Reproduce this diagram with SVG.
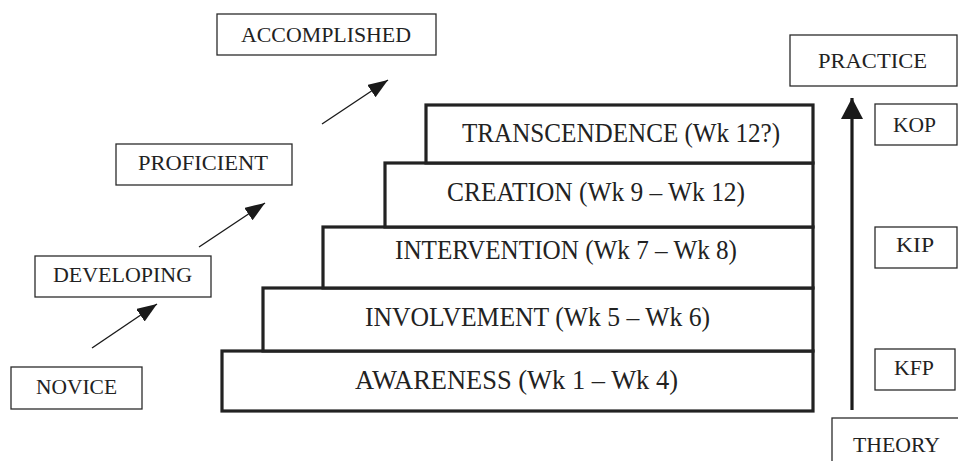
<svg xmlns="http://www.w3.org/2000/svg" width="958" height="461" viewBox="0 0 958 461">
<style>
.bg{fill:#ffffff}
.box{fill:#ffffff;stroke:#2b2b2b;stroke-width:1.3}
.step{fill:#ffffff;stroke:#222222;stroke-width:3.2}
.lbl{font-family:"Liberation Serif","Times New Roman",serif;font-size:21px;fill:#222222}
.big{font-family:"Liberation Serif","Times New Roman",serif;font-size:27.5px;fill:#222222}
.thin{stroke:#1a1a1a;stroke-width:1.4;fill:none}
.thick{stroke:#1a1a1a;stroke-width:3.2;fill:none}
</style>
<defs>
<marker id="ah" markerUnits="userSpaceOnUse" markerWidth="22" markerHeight="16" refX="20" refY="7.5" orient="auto">
<path d="M0,0 L20,7.5 L0,15 z" fill="#1a1a1a"/>
</marker>
<marker id="ahv" markerUnits="userSpaceOnUse" markerWidth="24" markerHeight="24" refX="21" refY="11" orient="auto">
<path d="M0,0 L21,11 L0,22 z" fill="#1a1a1a"/>
</marker>
</defs>
<rect class="bg" x="0" y="0" width="958" height="461"/>

<g id="stairs">
<g id="awareness">
<rect class="step" x="222" y="351" width="591" height="60"/>
<text class="big" x="355" y="389" textLength="323" lengthAdjust="spacingAndGlyphs">AWARENESS (Wk 1 – Wk 4)</text>
</g>
<g id="involvement">
<rect class="step" x="263" y="288" width="550" height="63"/>
<text class="big" x="365" y="326" textLength="345" lengthAdjust="spacingAndGlyphs">INVOLVEMENT (Wk 5 – Wk 6)</text>
</g>
<g id="intervention">
<rect class="step" x="323" y="227" width="490" height="61"/>
<text class="big" x="395" y="259" textLength="342" lengthAdjust="spacingAndGlyphs">INTERVENTION (Wk 7 – Wk 8)</text>
</g>
<g id="creation">
<rect class="step" x="385" y="163" width="428" height="64"/>
<text class="big" x="447" y="201" textLength="298" lengthAdjust="spacingAndGlyphs">CREATION (Wk 9 – Wk 12)</text>
</g>
<g id="transcendence">
<rect class="step" x="426" y="105" width="387" height="58"/>
<text class="big" x="462" y="142" textLength="318" lengthAdjust="spacingAndGlyphs">TRANSCENDENCE (Wk 12?)</text>
</g>
</g>

<g id="novice">
<rect class="box" x="11" y="367" width="131" height="42"/>
<text class="lbl" x="36" y="394" textLength="81" lengthAdjust="spacingAndGlyphs">NOVICE</text>
</g>
<g id="developing">
<rect class="box" x="35" y="256" width="176" height="41"/>
<text class="lbl" x="53" y="282" textLength="139" lengthAdjust="spacingAndGlyphs">DEVELOPING</text>
</g>
<g id="proficient">
<rect class="box" x="116" y="144" width="176" height="41"/>
<text class="lbl" x="138" y="170" textLength="130" lengthAdjust="spacingAndGlyphs">PROFICIENT</text>
</g>
<g id="accomplished">
<rect class="box" x="217" y="14" width="219" height="41"/>
<text class="lbl" x="241" y="42" textLength="170" lengthAdjust="spacingAndGlyphs">ACCOMPLISHED</text>
</g>

<g id="practice">
<rect class="box" x="790" y="35" width="167" height="51"/>
<text class="lbl" x="818" y="68" textLength="109" lengthAdjust="spacingAndGlyphs">PRACTICE</text>
</g>
<g id="kop">
<rect class="box" x="875" y="104" width="82" height="41"/>
<text class="lbl" x="893" y="132" textLength="43" lengthAdjust="spacingAndGlyphs">KOP</text>
</g>
<g id="kip">
<rect class="box" x="875" y="227" width="82" height="41"/>
<text class="lbl" x="896" y="252" textLength="38" lengthAdjust="spacingAndGlyphs">KIP</text>
</g>
<g id="kfp">
<rect class="box" x="875" y="349" width="80" height="41"/>
<text class="lbl" x="894" y="375" textLength="40" lengthAdjust="spacingAndGlyphs">KFP</text>
</g>
<g id="theory">
<rect class="box" x="832" y="418" width="140" height="60"/>
<text class="lbl" x="853" y="452" textLength="87" lengthAdjust="spacingAndGlyphs">THEORY</text>
</g>

<g id="connectors">
<line class="thin" x1="92" y1="348" x2="157" y2="304" marker-end="url(#ah)"/>
<line class="thin" x1="199" y1="247" x2="265" y2="203" marker-end="url(#ah)"/>
<line class="thin" x1="322" y1="124" x2="388" y2="80" marker-end="url(#ah)"/>
<line class="thick" x1="852" y1="410" x2="852" y2="98" marker-end="url(#ahv)"/>
</g>
</svg>
